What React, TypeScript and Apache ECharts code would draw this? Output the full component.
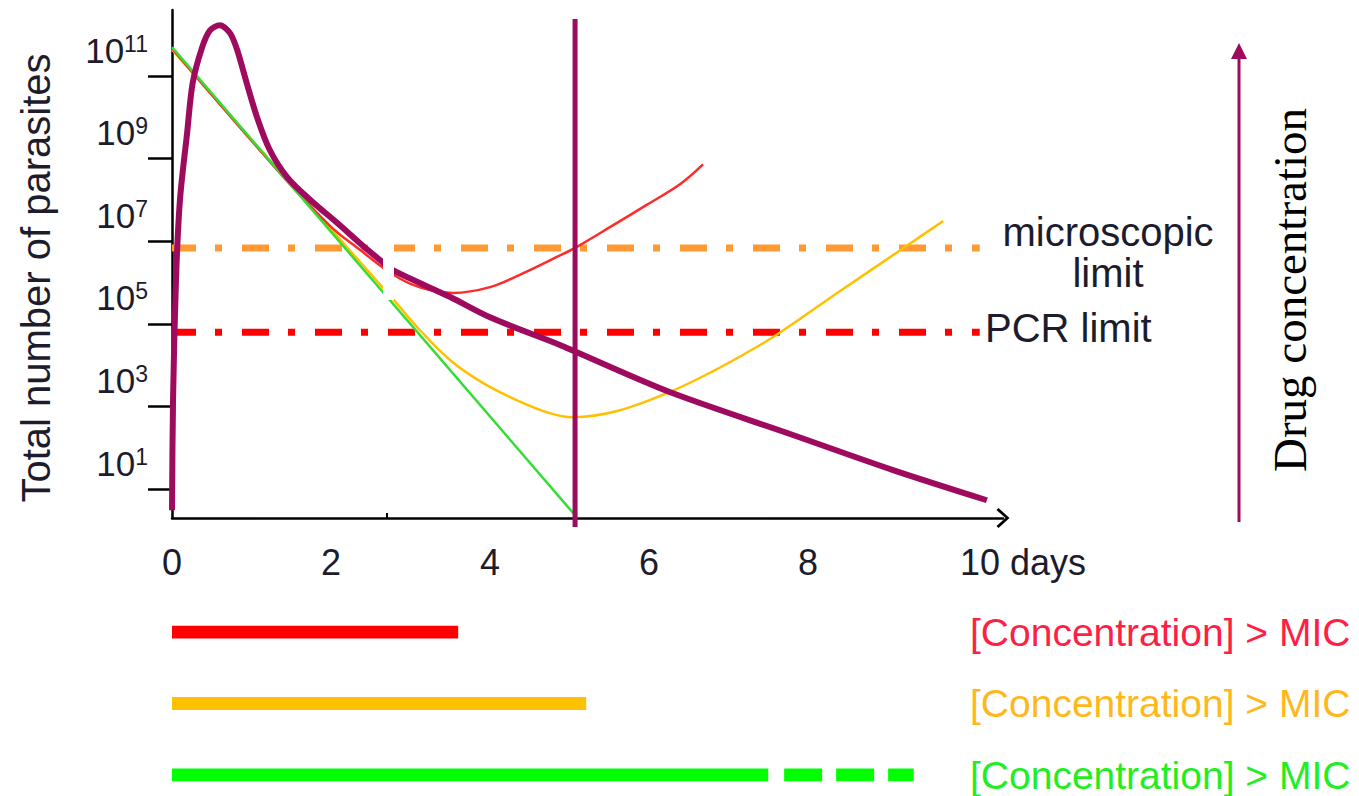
import React, { useEffect, useRef } from "react";
import * as echarts from "echarts";

const SANS = "'Liberation Sans', Arial, Helvetica, sans-serif";
const SERIF = "'Liberation Serif', 'Times New Roman', serif";
const TEXT = "#1c1c2c";
const PURPLE = "#9E0A5E";

// x: days, y: log10(total number of parasites)
const dayTicks = [0, 2, 4, 6, 8, 10];
const decadeTicks = [1, 3, 5, 7, 9, 11];
const extraDayTick = [2.7];

const greenCurve = [[0, 11.7], [5.1, 0.3]];
const orangeCurve = [
  [0, 11.64], [1.4, 8.59], [2.78, 5.6], [3.08, 4.93], [3.5, 4.12], [3.91, 3.57],
  [4.34, 3.15], [4.75, 2.84], [5.04, 2.74], [5.6, 2.89], [6.26, 3.35], [6.8, 3.85],
  [7.3, 4.38], [7.64, 4.78], [8.4, 5.79], [9.22, 6.86], [9.7, 7.49],
];
const redCurve = [
  [0, 11.67], [1.4, 8.56], [2.0, 7.35], [2.36, 6.8], [2.7, 6.3], [3.0, 5.97], [3.3, 5.8],
  [3.53, 5.75], [4.0, 5.89], [4.42, 6.23], [4.84, 6.62], [5.07, 6.84], [5.55, 7.39],
  [5.97, 7.88], [6.39, 8.38], [6.68, 8.86],
];
const drugCurve = [
  [0, 0.49], [0.013, 3.15], [0.05, 6.06], [0.1, 8.0], [0.19, 9.62], [0.26, 10.83],
  [0.38, 11.7], [0.48, 12.11], [0.6, 12.23], [0.73, 12.04], [0.82, 11.63], [0.94, 10.83],
  [1.07, 10.0], [1.23, 9.21], [1.45, 8.55], [1.74, 8.0], [2.08, 7.44], [2.36, 6.96],
  [2.62, 6.54], [2.78, 6.3], [3.5, 5.65], [4.0, 5.16], [4.88, 4.49], [5.07, 4.33],
  [6.26, 3.35], [7.81, 2.31], [9.07, 1.46], [10.25, 0.73],
];
const treatmentLine = [[5.07, 12.38], [5.07, 0.08]];
const microscopicLimit = [[0, 6.84], [10.16, 6.84]];
const pcrLimit = [[0, 4.8], [10.16, 4.8]];

const micRows = ["red", "orange", "green"];
const micRowColors = ["#FF1F45", "#FFB81C", "#1FEE1F"];
const micRed = [[0, "red"], [3.6, "red"]];
const micOrange = [[0, "orange"], [5.21, "orange"]];
const micGreenSolid = [[0, "green"], [7.5, "green"]];
const micGreenDashed = [[7.7, "green"], [9.33, "green"]];
const micLabel = "[Concentration] > MIC";

const PX_PER_DAY = 79.5;
const G1_LEFT = 172;
const G1_WIDTH = 831;
const G2_WIDTH = 787;

const lineSeries = (data: any[], color: string, width: number, extra: any = {}) => {
  const { lineStyle, ...rest } = extra;
  return {
    type: "line",
    data,
    symbol: "none",
    silent: true,
    ...rest,
    lineStyle: { color, width, cap: "butt", ...(lineStyle || {}) },
  };
};

export default function App() {
  const ref = useRef<HTMLDivElement>(null);
  useEffect(() => {
    if (!ref.current) return;
    const chart = echarts.init(ref.current, undefined, { renderer: "svg" });
    const dashDot = [27, 19, 7, 20];
    chart.setOption({
      animation: false,
      backgroundColor: "#ffffff",
      grid: [
        { left: G1_LEFT, top: 10, width: G1_WIDTH, height: 508 },
        { left: G1_LEFT, top: 632, width: G2_WIDTH, height: 143 },
      ],
      xAxis: [
        {
          type: "value",
          gridIndex: 0,
          min: 0,
          max: G1_WIDTH / PX_PER_DAY,
          splitLine: { show: false },
          axisLine: {
            show: true,
            lineStyle: { color: "#000", width: 2.5 },
            symbol: ["none", "path://M0,11 L10,0 L20,11 L18,13 L10,4 L2,13 Z"],
            symbolSize: [20, 13],
          },
          axisTick: { show: true, inside: true, length: 5, customValues: extraDayTick, lineStyle: { color: "#000", width: 2 } },
          axisLabel: {
            customValues: dayTicks,
            margin: 24,
            fontSize: 36,
            lineHeight: 40,
            fontFamily: SANS,
            color: TEXT,
            formatter: (v: number) => (v === 10 ? "{d|10 days}" : String(v)),
            rich: { d: { fontSize: 36, lineHeight: 40, fontFamily: SANS, color: TEXT, padding: [0, 0, 0, 112] } },
          },
        },
        {
          type: "value",
          gridIndex: 1,
          min: 0,
          max: G2_WIDTH / PX_PER_DAY,
          show: false,
        },
      ],
      yAxis: [
        {
          type: "value",
          gridIndex: 0,
          min: 0.3,
          max: 12.6,
          splitLine: { show: false },
          axisLine: { show: true, lineStyle: { color: "#000", width: 2.5 } },
          axisTick: { show: true, length: 24, customValues: decadeTicks, lineStyle: { color: "#000", width: 2.5 } },
          axisLabel: {
            customValues: decadeTicks,
            margin: 24,
            verticalAlign: "bottom",
            padding: [0, 0, 8, 0],
            formatter: (v: number) => `{b|10}{s|${Math.round(v)}}`,
            rich: {
              b: { fontSize: 35, lineHeight: 36, fontFamily: SANS, color: TEXT },
              s: { fontSize: 23, lineHeight: 24, fontFamily: SANS, color: TEXT, verticalAlign: "top" },
            },
          },
          name: "Total number of parasites",
          nameLocation: "middle",
          nameRotate: 90,
          nameGap: 116,
          nameTextStyle: { fontSize: 40, fontFamily: SANS, color: TEXT, padding: [0, 28, 0, 0] },
        },
        {
          type: "category",
          gridIndex: 1,
          inverse: true,
          boundaryGap: false,
          position: "right",
          data: micRows.map((r, i) => ({ value: r, textStyle: { color: micRowColors[i] } })),
          axisLine: { show: false },
          axisTick: { show: false },
          splitLine: { show: false },
          axisLabel: {
            margin: 11,
            fontSize: 39,
            fontFamily: SANS,
            formatter: () => micLabel,
          },
        },
      ],
      series: [
        lineSeries(microscopicLimit, "#FF9933", 7, { lineStyle: { type: dashDot, dashOffset: 3 } }),
        lineSeries(pcrLimit, "#FF0000", 7, { lineStyle: { type: dashDot, dashOffset: 3 } }),
        lineSeries(orangeCurve, "#FFC000", 2.5, { smooth: 0.35 }),
        lineSeries(redCurve, "#FF2A2A", 2.5, { smooth: 0.35 }),
        lineSeries(greenCurve, "#33DD33", 2.5),
        lineSeries(drugCurve, PURPLE, 6, { smooth: 0.3 }),
        lineSeries(treatmentLine, PURPLE, 5, { clip: false }),
        lineSeries(micRed, "#FF0000", 13, { xAxisIndex: 1, yAxisIndex: 1, clip: false }),
        lineSeries(micOrange, "#FFC000", 13, { xAxisIndex: 1, yAxisIndex: 1, clip: false }),
        lineSeries(micGreenSolid, "#00FF00", 13, { xAxisIndex: 1, yAxisIndex: 1, clip: false }),
        lineSeries(micGreenDashed, "#00FF00", 13, { xAxisIndex: 1, yAxisIndex: 1, clip: false, lineStyle: { type: [38, 14] } }),
      ],
      graphic: [
        { type: "rect", z: 50, shape: { x: 383, y: 238, width: 11, height: 62 }, style: { fill: "#ffffff" } },
        {
          type: "text",
          z: 60,
          x: 1108,
          y: 252,
          style: { text: "microscopic\nlimit", fontSize: 40, lineHeight: 41, fontFamily: SANS, fill: TEXT, align: "center", verticalAlign: "middle" },
        },
        {
          type: "text",
          z: 60,
          x: 985,
          y: 328,
          style: { text: "PCR limit", fontSize: 40, fontFamily: SANS, fill: TEXT, align: "left", verticalAlign: "middle" },
        },
        { type: "line", z: 60, shape: { x1: 1239, y1: 522, x2: 1239, y2: 56 }, style: { stroke: PURPLE, lineWidth: 3 } },
        { type: "polygon", z: 60, shape: { points: [[1231, 59], [1239, 43], [1247, 59]] }, style: { fill: PURPLE } },
        {
          type: "text",
          z: 60,
          x: 1290,
          y: 290,
          rotation: Math.PI / 2,
          style: { text: "Drug concentration", fontSize: 47, fontFamily: SERIF, fill: "#000", align: "center", verticalAlign: "middle" },
        },
      ],
    });
    return () => chart.dispose();
  }, []);
  return <div ref={ref} style={{ position: "absolute", left: 0, top: 0, width: 1359, height: 796 }} />;
}
